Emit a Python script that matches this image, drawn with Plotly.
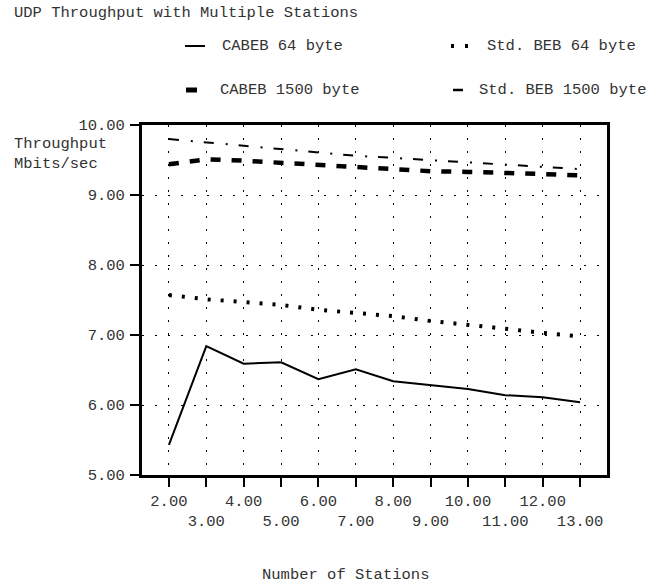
import plotly.graph_objects as go

# ---- data ----
stations = [2, 3, 4, 5, 6, 7, 8, 9, 10, 11, 12, 13]
x_tick_labels = ["2.00", "3.00", "4.00", "5.00", "6.00", "7.00", "8.00",
                 "9.00", "10.00", "11.00", "12.00", "13.00"]
y_tick_values = [5, 6, 7, 8, 9, 10]
y_tick_labels = ["5.00", "6.00", "7.00", "8.00", "9.00", "10.00"]

cabeb_64 = [5.43, 6.84, 6.59, 6.61, 6.37, 6.51, 6.34, 6.29, 6.23, 6.14, 6.11, 6.04]
std_beb_64 = [7.57, 7.51, 7.47, 7.43, 7.36, 7.31, 7.27, 7.20, 7.15, 7.09, 7.03, 6.98]
cabeb_1500 = [9.44, 9.51, 9.49, 9.46, 9.43, 9.39, 9.36, 9.34, 9.33, 9.32, 9.30, 9.28]
std_beb_1500 = [9.80, 9.75, 9.70, 9.65, 9.61, 9.56, 9.53, 9.50, 9.46, 9.44, 9.40, 9.37]

series_names = ["CABEB 64 byte", "Std. BEB 64 byte", "CABEB 1500 byte", "Std. BEB 1500 byte"]

title_text = "UDP Throughput with Multiple Stations"
x_title = "Number of Stations"
y_title = "Throughput<br>Mbits/sec"

# ---- layout geometry ----
W, H = 658, 584
L, R, T, B = 142, 51, 125, 109
PW, PH = W - L - R, H - T - B
FONT = "Liberation Mono, Courier New, monospace"
FS = 15.5


def px(xp):
    return (xp - L) / PW


def py(yp):
    return (H - B - yp) / PH


styles = [
    dict(color="black", width=2, dash="solid"),
    dict(color="black", width=4, dash="3px,10px"),
    dict(color="black", width=4.5, dash="10px,11px"),
    dict(color="black", width=2, dash="10px,12px,2px,11px"),
]
series_values = [cabeb_64, std_beb_64, cabeb_1500, std_beb_1500]

fig = go.Figure()
for name, vals, st in zip(series_names, series_values, styles):
    fig.add_trace(go.Scatter(x=stations, y=vals, mode="lines", name=name,
                             line=st, showlegend=False))

# alternate-row x tick labels
ticktext = [t if i % 2 == 0 else "<br>" + t for i, t in enumerate(x_tick_labels)]

fig.update_layout(
    width=W, height=H,
    margin=dict(l=L, r=R, t=T, b=B, pad=0),
    paper_bgcolor="white", plot_bgcolor="white",
    font=dict(family=FONT, size=FS, color="#333"),
    xaxis=dict(range=[1.28, 13.72], tickvals=stations, ticktext=ticktext,
               showline=True, mirror=True, linewidth=3, linecolor="black",
               ticks="outside", ticklen=9, tickwidth=1.5, tickcolor="black",
               showgrid=True, gridcolor="black", gridwidth=1, griddash="2px,11px",
               zeroline=False, tickangle=0),
    yaxis=dict(range=[5, 10], tickvals=y_tick_values, ticktext=y_tick_labels,
               showline=True, mirror=True, linewidth=3, linecolor="black",
               ticks="outside", ticklen=9, tickwidth=1.5, tickcolor="black",
               showgrid=True, gridcolor="black", gridwidth=1, griddash="2px,11px",
               zeroline=False, ticklabelstandoff=2),
)

annotations = [
    dict(text=title_text, x=px(12), y=py(13), xanchor="left", yanchor="middle"),
    dict(text=y_title, x=px(12), y=py(133), xanchor="left", yanchor="top", align="left"),
    dict(text=x_title, x=px(345), y=py(575), xanchor="center", yanchor="middle"),
]

# manual legend
leg_sym = [(185, 205, 46), (451, 470, 46), (186, 197, 90), (453, 463, 90)]
leg_txt = [(220, 46), (485, 46), (218, 90), (477, 90)]
leg_widths = [2, 4, 5, 2.5]
leg_dash = ["solid", "3px,11px", "solid", "solid"]
shapes = []
for (x0, x1, yy), w, d in zip(leg_sym, leg_widths, leg_dash):
    shapes.append(dict(type="line", xref="paper", yref="paper",
                       x0=px(x0), x1=px(x1), y0=py(yy), y1=py(yy),
                       line=dict(color="black", width=w, dash=d)))
for name, (xt, yt) in zip(series_names, leg_txt):
    annotations.append(dict(text=name, x=px(xt), y=py(yt), xanchor="left", yanchor="middle"))

for a in annotations:
    a.update(xref="paper", yref="paper", showarrow=False)

fig.update_layout(annotations=annotations, shapes=shapes)
fig.write_html("out.html", config={"displayModeBar": False},
               post_script="document.body.style.margin='0';document.body.style.overflow='hidden';")
